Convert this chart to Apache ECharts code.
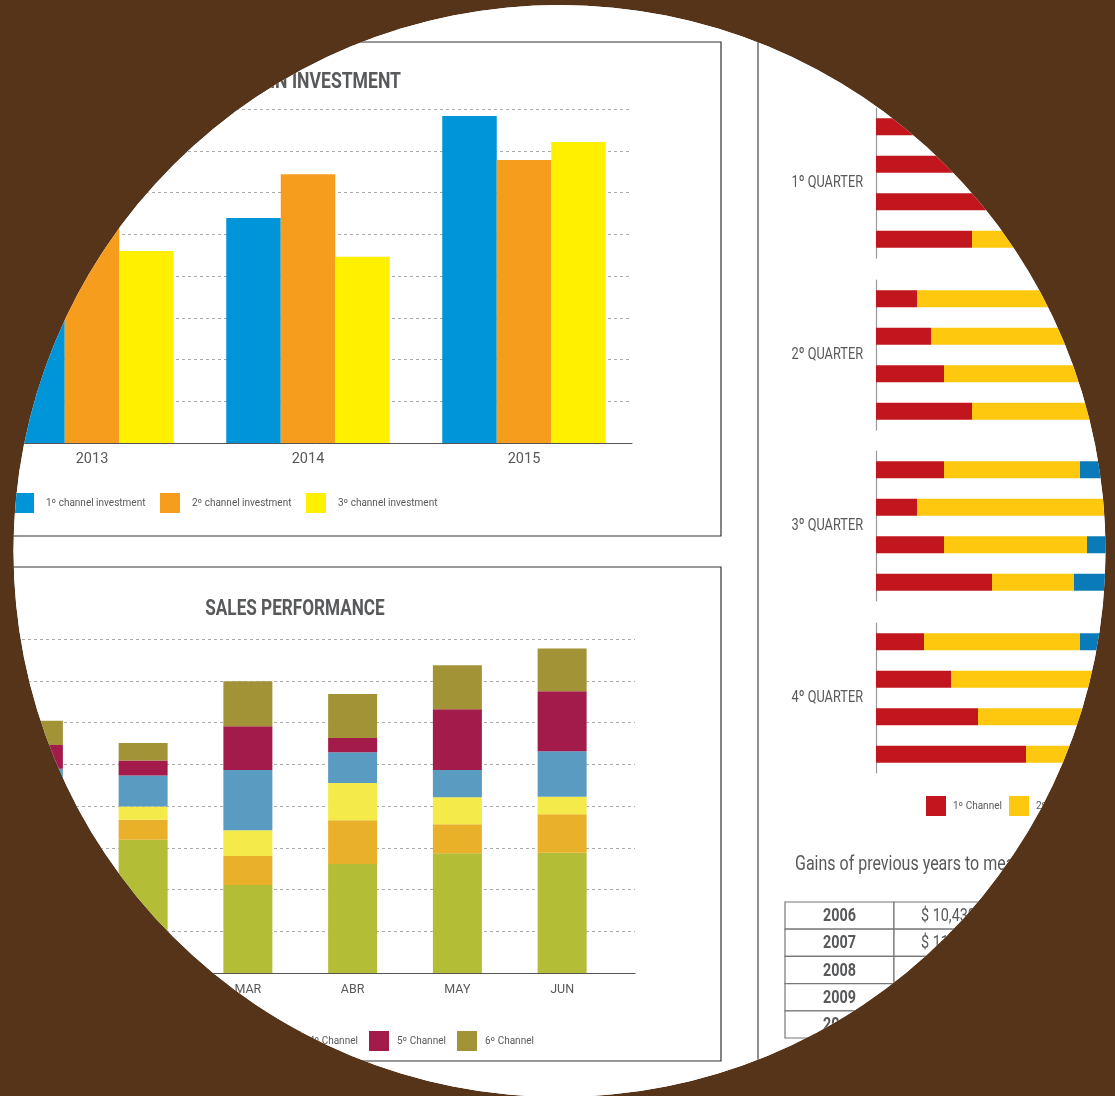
<!DOCTYPE html>
<html><head><meta charset="utf-8">
<script src="https://cdn.jsdelivr.net/npm/echarts@6/dist/echarts.min.js"></script>
<style>
html,body{margin:0;padding:0;background:#55341a;width:1115px;height:1096px;overflow:hidden}
#c{position:absolute;left:0;top:0;width:1115px;height:1096px;background:#fff;clip-path:circle(546px at 559.5px 551px)}
</style></head><body>
<div id="c"></div>
<script>
// ---- data ----
const invYears = ['2013', '2014', '2015'];
const inv1 = [40, 53.9, 78.3];
const inv2 = [55, 64.4, 67.8];
const inv3 = [46, 44.6, 72.1];
const invNames = ['1º channel investment', '2º channel investment', '3º channel investment'];

const months = ['JAN', 'FEB', 'MAR', 'ABR', 'MAY', 'JUN'];
const sales1 = [32.4, 31.9, 21.1, 26.1, 28.7, 28.8];
const sales2 = [5.0, 4.8, 6.9, 10.5, 6.9, 9.2];
const sales3 = [3.5, 3.2, 6.2, 8.9, 6.5, 4.2];
const sales4 = [8.0, 7.4, 14.4, 7.4, 6.5, 10.9];
const sales5 = [5.7, 3.6, 10.5, 3.4, 14.6, 14.4];
const sales6 = [5.8, 4.2, 10.8, 10.5, 10.5, 10.2];
const salesNames = ['1º Channel', '2º Channel', '3º Channel', '4º Channel', '5º Channel', '6º Channel'];

const quarters = ['1º QUARTER', '2º QUARTER', '3º QUARTER', '4º QUARTER'];
const qRed = [[22, 25, 28, 24], [10.25, 13.75, 17, 24], [17, 10.25, 17, 29], [12, 18.75, 25.5, 37.5]];
const qYellow = [[45, 45, 40, 40], [45, 42, 39, 32], [34, 48, 35.75, 20.5], [39, 37, 30, 20]];
const qBlue = [[10, 10, 10, 10], [10, 10, 10, 10], [12, 10, 12, 15], [10, 10, 10, 10]];
const qNames = ['1º Channel', '2º Channel', '3º Channel'];

const gainYears = ['2006', '2007', '2008', '2009', '2010'];
const gainValues = ['$ 10,430', '$ 11,250', '$ 12,180', '$ 13,040', '$ 14,320'];

// ---- style ----
const FONT = "Roboto, 'Noto Sans', sans-serif";
const GRAY = '#58595b';
const NARROW = 0.8;
const invColors = ['#0095d9', '#f79d1e', '#fff000'];
const salesColors = ['#b3bd36', '#e9b02a', '#f4ea4a', '#5a9bc2', '#a31b4b', '#a29436'];
const qColors = ['#c1161d', '#fdc80e', '#0a7bb8'];
const QP = 'q:'; // internal prefix to keep quarter series distinct from sales series

const chart = echarts.init(document.getElementById('c'), null, {renderer: 'canvas'});

const grid = [], xAxis = [], yAxis = [], series = [], legend = [];

// grid 0: investment
grid.push({left: -16, right: 1115 - 632, top: 109, bottom: 1096 - 443, outerBoundsMode: 'none', containLabel: false});
xAxis.push({type: 'category', gridIndex: 0, data: invYears,
  axisLine: {lineStyle: {color: '#555', width: 1}}, axisTick: {show: false},
  axisLabel: {color: GRAY, fontSize: 14.5, fontFamily: FONT, margin: 9}});
yAxis.push({type: 'value', gridIndex: 0, min: 0, max: 80, interval: 10,
  axisLine: {show: false}, axisTick: {show: false}, axisLabel: {show: false},
  splitLine: {lineStyle: {color: '#aaa', type: [3, 3], width: 1}}});
[inv1, inv2, inv3].forEach((d, i) => series.push({type: 'bar', name: invNames[i], xAxisIndex: 0, yAxisIndex: 0,
  data: d, barWidth: 54.5, barGap: '0%', itemStyle: {color: invColors[i]}}));

// grid 1: sales gridlines / axis line
grid.push({left: -14, right: 1115 - 635, top: 639, bottom: 1096 - 973, outerBoundsMode: 'none', containLabel: false});
xAxis.push({type: 'value', gridIndex: 1, min: 0, max: 1, axisLine: {show: true, onZero: false, lineStyle: {color: '#555'}},
  axisTick: {show: false}, axisLabel: {show: false}, splitLine: {show: false}});
yAxis.push({type: 'value', gridIndex: 1, min: 0, max: 80, interval: 10,
  axisLine: {show: false}, axisTick: {show: false}, axisLabel: {show: false},
  splitLine: {lineStyle: {color: '#aaa', type: [3, 3], width: 1}}});
// grid 2: sales bars
grid.push({left: -14, right: 1115 - 614.5, top: 639, bottom: 1096 - 973, outerBoundsMode: 'none', containLabel: false});
xAxis.push({type: 'category', gridIndex: 2, data: months, axisLine: {show: false}, axisTick: {show: false},
  axisLabel: {color: GRAY, fontSize: 12.5, fontFamily: FONT, margin: 10}});
yAxis.push({type: 'value', gridIndex: 2, min: 0, max: 80, show: false, splitLine: {show: false}});
[sales1, sales2, sales3, sales4, sales5, sales6].forEach((d, i) => series.push({type: 'bar', name: salesNames[i],
  xAxisIndex: 2, yAxisIndex: 2, stack: 'sales', data: d, barWidth: 49, itemStyle: {color: salesColors[i]}}));

// grids 3-6: quarters
const qTops = [108, 280, 451, 623];
const graphic = [];
quarters.forEach((q, g) => {
  const gi = grid.length;
  grid.push({left: 876, width: 400, top: qTops[g], height: 150, outerBoundsMode: 'none', containLabel: false});
  xAxis.push({type: 'value', gridIndex: gi, min: 0, max: 100, show: false});
  yAxis.push({type: 'category', gridIndex: gi, data: ['a', 'b', 'c', 'd'], inverse: true,
    axisLine: {lineStyle: {color: '#999', width: 1.2}}, axisTick: {show: false}, axisLabel: {show: false}});
  [qRed[g], qYellow[g], qBlue[g]].forEach((d, i) => series.push({type: 'bar', name: QP + qNames[i],
    xAxisIndex: gi, yAxisIndex: gi, stack: 'q' + g, data: d, barWidth: 17, itemStyle: {color: qColors[i]}}));
  graphic.push({type: 'text', x: 863, y: qTops[g] + 75, scaleX: 0.75,
    style: {text: q, align: 'right', verticalAlign: 'middle', fill: GRAY, font: "17px " + FONT}});
});

function addLegend(names, lefts, top, gap) {
  names.forEach((n, i) => legend.push({data: [n], left: lefts[i], top: top, itemWidth: 20, itemHeight: 20,
    icon: 'rect', selectedMode: false, padding: 0,
    formatter: (nm) => nm.replace(QP, ''),
    textStyle: {color: GRAY, fontSize: 10, fontFamily: FONT, padding: [0, 0, 0, gap]}}));
}
addLegend(invNames, [14, 160, 306], 493, 7);
addLegend(salesNames, [17, 105, 193, 281, 369, 457], 1031, 3);
addLegend(qNames.map(n => QP + n), [926, 1009, 1092], 796, 2);

// graphic: panels, titles, table
graphic.push(
  {type: 'rect', shape: {x: -10, y: 42, width: 731, height: 494}, style: {fill: 'none', stroke: '#333', lineWidth: 1.2}, z: -1},
  {type: 'rect', shape: {x: -10, y: 567, width: 731, height: 494}, style: {fill: 'none', stroke: '#333', lineWidth: 1.2}, z: -1},
  {type: 'line', shape: {x1: 758, y1: 0, x2: 758, y2: 1096}, style: {stroke: '#444', lineWidth: 1.2}},
  {type: 'text', x: 401, y: 82, scaleX: NARROW, style: {text: 'GROWTH IN INVESTMENT', align: 'right', verticalAlign: 'middle',
    fill: GRAY, font: "bold 22px " + FONT}},
  {type: 'text', x: 295, y: 609, scaleX: 0.78, style: {text: 'SALES PERFORMANCE', align: 'center', verticalAlign: 'middle',
    fill: GRAY, font: "bold 22px " + FONT}},
  {type: 'text', x: 795, y: 865, scaleX: NARROW, style: {text: 'Gains of previous years to measure growth', align: 'left', verticalAlign: 'middle',
    fill: GRAY, font: "20px " + FONT}}
);
const tX = 785, tY = 902, rowH = 27.2, c1 = 109, c2 = 180;
gainYears.forEach((y, i) => {
  graphic.push({type: 'rect', shape: {x: tX, y: tY + i * rowH, width: c1, height: rowH}, style: {fill: '#fff', stroke: '#777', lineWidth: 1.2}});
  graphic.push({type: 'rect', shape: {x: tX + c1, y: tY + i * rowH, width: c2, height: rowH}, style: {fill: '#fff', stroke: '#777', lineWidth: 1.2}});
  graphic.push({type: 'text', x: tX + c1 / 2, y: tY + i * rowH + rowH / 2 + 1, scaleX: NARROW, style: {text: y, align: 'center', verticalAlign: 'middle',
    fill: GRAY, font: "bold 18px " + FONT}});
  graphic.push({type: 'text', x: 921, y: tY + i * rowH + rowH / 2 + 1, scaleX: NARROW, style: {text: gainValues[i], align: 'left', verticalAlign: 'middle',
    fill: GRAY, font: "18px " + FONT}});
});

chart.setOption({
  animation: false,
  backgroundColor: '#fff',
  grid, xAxis, yAxis, series, legend, graphic
});
</script>
</body></html>
